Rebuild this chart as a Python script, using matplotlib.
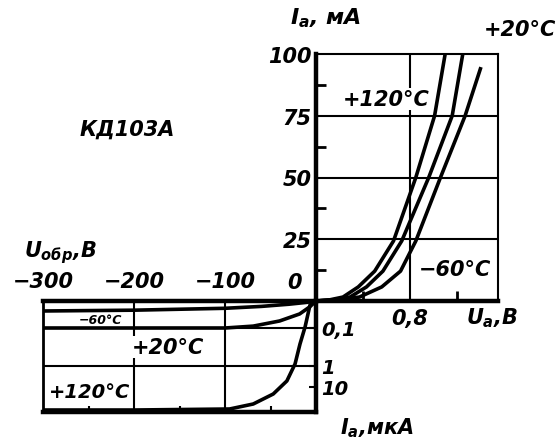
import matplotlib
matplotlib.use('Agg')
import matplotlib.pyplot as plt
import numpy as np

# forward branch, U in V, I in mA
v_fwd_120 = [0, 0.12, 0.23, 0.36, 0.50, 0.66, 0.85, 1.01, 1.10]
i_fwd_120 = [0, 0.5, 1.6, 5.7, 12.1, 24.3, 50, 75, 100]
v_fwd_20 = [0, 0.15, 0.29, 0.43, 0.57, 0.73, 0.96, 1.16, 1.25]
i_fwd_20 = [0, 0.5, 1.6, 5.7, 12.1, 24.3, 50, 75, 100]
v_fwd_m60 = [0, 0.20, 0.37, 0.56, 0.72, 0.85, 1.06, 1.27, 1.40]
i_fwd_m60 = [0, 0.5, 1.6, 5.7, 12.1, 24.3, 50, 75, 94]

# reverse branch, U in V, I in uA
v_rev_m60 = [-300, -200, -100, -60, -30, -10, 0]
i_rev_m60 = [0.037, 0.034, 0.027, 0.02, 0.012, 0.005, 0]
v_rev_20 = [-300, -200, -100, -69, -40, -18, -7, 0]
i_rev_20 = [0.1, 0.1, 0.1, 0.093, 0.074, 0.048, 0.022, 0]
v_rev_120 = [-300, -199, -95, -69, -47, -32, -23, -17.6, -12, -6.6, 0]
i_rev_120 = [28.4, 28.4, 27.6, 23.6, 15.6, 7.4, 0.95, 0.48, 0.096, 0.015, 0]

fwd_yticks = [25, 50, 75, 100]
rev_xticks = [-300, -200, -100]
rev_xlabels = ['\u2212300', '\u2212200', '\u2212100']
rev_yticks = [0.1, 1, 10]
rev_ylabels = ['0,1', '1', '10']

# the printed reverse current scale is non-uniform
SCALE_VALS = [0, 0.1, 1, 10, 30]
SCALE_POS = [0, 27, 65, 86, 111]

def rev_forward(v):
    return np.interp(np.asarray(v, dtype=float), SCALE_VALS, SCALE_POS)

def rev_inverse(p):
    return np.interp(np.asarray(p, dtype=float), SCALE_POS, SCALE_VALS)

plt.rcParams['font.family'] = 'DejaVu Sans'
plt.rcParams['font.weight'] = 'bold'
plt.rcParams['font.style'] = 'italic'
plt.rcParams['mathtext.fontset'] = 'custom'
plt.rcParams['mathtext.it'] = 'DejaVu Sans:italic:bold'
plt.rcParams['mathtext.rm'] = 'DejaVu Sans:italic:bold'
plt.rcParams['mathtext.bf'] = 'DejaVu Sans:italic:bold'

W, H = 557, 439
FS = 15

def pos(x, y):
    return x / W, 1 - y / H

fig = plt.figure(figsize=(W / 100, H / 100), dpi=100)

# forward quadrant
ax1 = fig.add_axes([316 / W, (H - 302) / H, 182 / W, 247 / H])
ax1.set_xlim(0, 1.55)
ax1.set_ylim(0, 100)
for y in [25, 50, 75]:
    ax1.axhline(y, color='black', lw=1.5)
ax1.axvline(0.8, color='black', lw=1.5)
for v, i in [(v_fwd_120, i_fwd_120), (v_fwd_20, i_fwd_20), (v_fwd_m60, i_fwd_m60)]:
    ax1.plot(v, i, color='black', lw=2.6)
ax1.spines['left'].set_linewidth(3.2)
ax1.spines['bottom'].set_linewidth(3.2)
ax1.spines['top'].set_linewidth(1.5)
ax1.spines['right'].set_linewidth(1.5)
ax1.set_yticks(fwd_yticks, [str(t) for t in fwd_yticks])
ax1.set_yticks([12.5, 37.5, 62.5, 87.5], minor=True)
ax1.set_xticks([0.8], ['0,8'])
ax1.set_xticks([0.4, 1.2], minor=True)
ax1.tick_params(axis='y', which='major', length=0, pad=3, labelsize=FS)
ax1.tick_params(axis='x', which='major', length=0, pad=5, labelsize=FS)
ax1.tick_params(which='minor', direction='in', length=7, width=2)

# reverse quadrant
ax2 = fig.add_axes([43 / W, (H - 413) / H, 273 / W, 111 / H])
ax2.set_yscale('function', functions=(rev_forward, rev_inverse))
ax2.set_xlim(-300, 0)
ax2.set_ylim(30, 0)
for x in [-200, -100]:
    ax2.axvline(x, color='black', lw=1.5)
for y in [0.1, 1]:
    ax2.axhline(y, color='black', lw=1.5)
for v, i in [(v_rev_m60, i_rev_m60), (v_rev_20, i_rev_20), (v_rev_120, i_rev_120)]:
    ax2.plot(v, i, color='black', lw=2.6)
ax2.spines['top'].set_linewidth(3.2)
ax2.spines['right'].set_linewidth(3.2)
ax2.spines['left'].set_linewidth(2)
ax2.spines['bottom'].set_linewidth(3.2)
ax2.xaxis.tick_top()
ax2.yaxis.tick_right()
ax2.set_xticks(rev_xticks, rev_xlabels)
ax2.set_xticks([-250, -150, -50], minor=True)
ax2.set_yticks(rev_yticks, rev_ylabels)
ax2.yaxis.set_minor_locator(matplotlib.ticker.NullLocator())
ax2.tick_params(axis='x', which='major', length=0, pad=7, labelsize=FS)
ax2.tick_params(axis='y', which='major', direction='in', length=5, width=1.5, pad=4, labelsize=FS - 1)
ax2.tick_params(axis='x', which='minor', direction='in', length=4, width=1.5,
                bottom=True, top=False)

# labels
fig.text(*pos(326, 18), '$I_{а}$, мА', ha='center', va='center', fontsize=FS + 1)
fig.text(*pos(520, 30), '+20°C', ha='center', va='center', fontsize=FS)
fig.text(*pos(386, 100), '+120°C', ha='center', va='center', fontsize=FS,
         bbox=dict(facecolor='white', edgecolor='none', pad=0.5))
fig.text(*pos(127, 130), 'КД103А', ha='center', va='center', fontsize=FS)
fig.text(*pos(455, 270), '\u221260°C', ha='center', va='center', fontsize=FS,
         bbox=dict(facecolor='white', edgecolor='none', pad=0.5))
fig.text(*pos(60, 253), '$U_{обр}$,В', ha='center', va='center', fontsize=FS)
fig.text(*pos(294, 283), '0', ha='center', va='center', fontsize=FS)
fig.text(*pos(492, 318), '$U_{а}$,В', ha='center', va='center', fontsize=FS)
fig.text(*pos(100, 320), '\u221260°C', ha='center', va='center', fontsize=9)
fig.text(*pos(168, 348), '+20°C', ha='center', va='center', fontsize=FS,
         bbox=dict(facecolor='white', edgecolor='none', pad=0.5))
fig.text(*pos(90, 393), '+120°C', ha='center', va='center', fontsize=FS - 1)
fig.text(*pos(377, 428), '$I_{а}$,мкА', ha='center', va='center', fontsize=FS)

fig.savefig('out.png', dpi=100)
